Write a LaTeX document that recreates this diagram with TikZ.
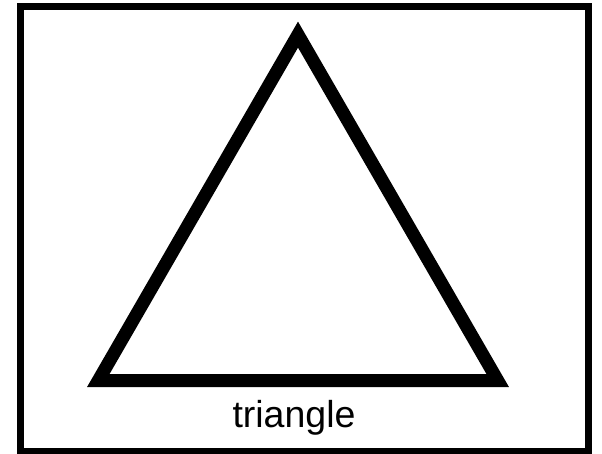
\documentclass[tikz,border=0pt]{standalone}
\usepackage{fontspec}
\setmainfont{Liberation Sans}
\usetikzlibrary{positioning}

\begin{document}
\begin{tikzpicture}[
    x=1pt, y=-1pt,
    frame/.style={draw=black, line width=7pt},
    tri/.style={draw=black, line width=13pt, line join=miter},
    lbl/.style={font=\fontsize{37.5}{42}\selectfont, text=black, inner sep=0pt}
  ]
  \useasboundingbox (0,0) rectangle (602,454);
  \draw[frame] (20,6.5) rectangle (588.5,451);
  % triangle corners
  \coordinate (apex) at (298,34.6);
  \coordinate (left) at (98.3,380.5);
  \coordinate (right) at (497.7,380.5);
  \draw[tri] (apex) -- (right) -- (left) -- cycle;
  \node[lbl, anchor=base] (name) at (294,427) {triangle};
\end{tikzpicture}
\end{document}
